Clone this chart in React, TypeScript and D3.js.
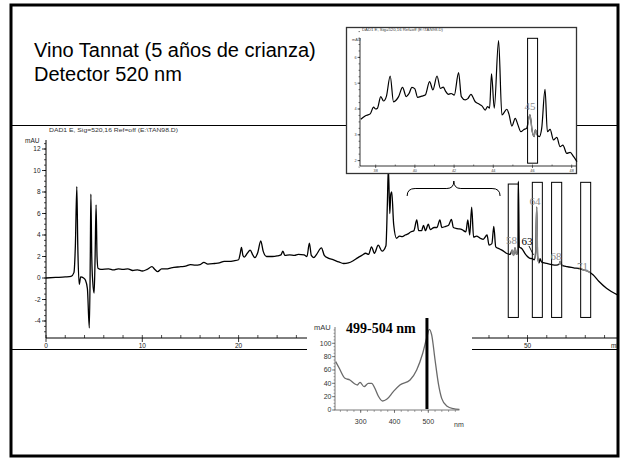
import React from "react";
import * as d3 from "d3";

// ---- Main chromatogram (520 nm) ----
const chromTime = [0, 1, 2, 2.6, 2.9, 3.05, 3.2, 3.3, 3.45, 3.6, 3.9, 4.1, 4.3, 4.5, 4.6, 4.66, 4.75, 4.85, 5.0, 5.1, 5.2, 5.3, 5.4, 5.7, 6.5, 7.0, 7.5, 8.0, 8.5, 9.0, 9.5, 10.0, 10.5, 11.0, 11.3, 11.6, 12.0, 12.5, 13.0, 14.0, 14.5, 15.0, 15.5, 16.0, 16.4, 16.8, 17.5, 18.0, 18.5, 19.0, 19.5, 20.0, 20.15, 20.3, 20.45, 20.6, 20.9, 21.2, 21.5, 21.7, 22.0, 22.3, 22.55, 22.9, 23.5, 24.0, 24.4, 24.6, 24.8, 25.3, 25.8, 26.2, 26.8, 27.1, 27.35, 27.55, 27.8, 28.1, 28.6, 28.9, 29.3, 29.8, 30.4, 30.9, 31.4, 31.9, 32.4, 32.8, 33.2, 33.5, 33.8, 34.1, 34.5, 34.9, 35.3, 35.45, 35.55, 35.7, 35.8, 35.9, 36.1, 36.4, 36.7, 37.0, 37.3, 37.6, 37.9, 38.2, 38.5, 38.7, 39.0, 39.2, 39.4, 39.7, 39.9, 40.3, 40.6, 40.9, 41.1, 41.5, 41.8, 42.1, 42.3, 42.7, 43.2, 43.6, 43.8, 44.0, 44.2, 44.4, 44.7, 45.1, 45.4, 45.8, 46.0, 46.3, 46.5, 46.7, 47.1, 47.5, 47.8, 48.2, 48.4, 48.55, 48.7, 48.85, 49.0, 49.05, 49.15, 49.4, 49.8, 50.25, 50.5, 50.7, 50.85, 50.95, 51.05, 51.2, 51.3, 51.45, 52.0, 52.5, 53.0, 53.3, 53.4, 53.55, 54.1, 54.8, 55.5, 55.8, 56.2, 56.8, 57.4, 58.2, 59.4];
const chromValue = [0.0, 0.05, 0.1, 0.15, 0.5, 3.0, 8.5, 3.0, -0.6, 0.1, 0.0, -0.2, -1.0, -4.65, 2.0, 7.8, 2.0, -0.3, -1.4, 2.0, 6.8, 2.0, 0.9, 0.8, 0.85, 0.75, 0.85, 0.8, 0.85, 0.7, 0.75, 0.65, 0.8, 1.05, 0.8, 0.6, 0.85, 0.85, 0.95, 1.05, 1.1, 1.25, 1.2, 1.25, 1.45, 1.3, 1.35, 1.4, 1.55, 1.55, 1.6, 1.7, 2.2, 2.85, 2.1, 1.95, 2.3, 2.6, 2.1, 1.9, 2.4, 3.45, 2.5, 2.0, 2.0, 2.05, 2.15, 2.5, 2.1, 2.15, 2.1, 2.2, 2.15, 2.0, 3.25, 2.1, 1.9, 2.2, 2.8, 2.1, 1.85, 1.7, 1.5, 1.35, 1.4, 1.6, 1.9, 2.1, 2.3, 2.2, 2.9, 2.3, 3.05, 2.5, 3.0, 7.0, 10.3, 6.0, 7.8, 8.0, 5.0, 3.7, 3.9, 3.85, 4.0, 4.1, 4.3, 4.4, 5.4, 4.4, 4.4, 4.9, 4.4, 5.0, 4.5, 4.7, 4.7, 5.4, 4.7, 4.8, 4.9, 5.45, 4.7, 4.6, 4.5, 4.3, 5.4, 4.0, 6.6, 3.8, 3.9, 3.7, 3.6, 4.0, 3.07, 3.2, 4.8, 2.9, 2.7, 2.5, 2.3, 2.2, 2.6, 2.1, 2.8, 2.2, 2.4, 9.0, 2.9, 2.75, 2.2, 1.83, 1.8, 1.7, 2.5, 6.6, 2.0, 1.4, 1.8, 1.5, 1.35, 1.25, 1.2, 1.3, 1.55, 1.2, 1.05, 0.95, 0.85, 0.75, 0.65, 0.3, -0.3, -0.95, -1.6];
const chromXTicks = [0, 10, 20, 30, 40, 50];
const chromYTicks = [-4, -2, 0, 2, 4, 6, 8, 10, 12];
const grayRanges = [[48.3, 48.98], [50.8, 51.2], [53.25, 53.65], [55.6, 56.5]];
const boxStart = [48.0, 50.5, 52.5, 55.52];
const boxEnd = [49.05, 51.54, 53.55, 56.56];
const boxTop = [8.74, 8.9, 8.9, 8.9];
const boxBottom = -3.67;
const peakLabels = ["58", "63", "64", "68", "71"];
const peakLabelTime = [48.34, 49.95, 50.78, 52.96, 55.71];
const peakLabelValue = [3.5, 3.44, 7.16, 2.05, 1.12];
const peakLabelGray = [true, false, true, true, true];

// ---- Inset (zoom of 37-48 min) ----
const insetTime = [37.24, 37.46, 37.72, 37.89, 38.0, 38.09, 38.26, 38.4, 38.55, 38.74, 38.91, 39.05, 39.17, 39.37, 39.56, 39.7, 39.85, 40.0, 40.14, 40.35, 40.53, 40.75, 40.92, 41.13, 41.3, 41.45, 41.55, 41.72, 41.85, 42.01, 42.23, 42.37, 42.57, 42.7, 42.86, 43.08, 43.25, 43.42, 43.59, 43.71, 43.81, 43.91, 44.05, 44.27, 44.44, 44.69, 44.8, 44.95, 45.12, 45.25, 45.41, 45.55, 45.7, 45.87, 45.99, 46.08, 46.15, 46.25, 46.35, 46.47, 46.64, 46.76, 46.9, 47.07, 47.24, 47.41, 47.55, 47.75, 47.92, 48.1, 48.27];
const insetValue = [3.6, 3.73, 3.81, 4.07, 4.0, 4.03, 4.48, 4.31, 4.5, 5.28, 4.28, 4.35, 4.48, 4.84, 4.48, 4.6, 4.84, 4.78, 4.45, 4.5, 4.54, 5.06, 4.74, 5.28, 4.8, 4.85, 4.71, 4.57, 4.6, 4.54, 5.41, 4.48, 4.35, 4.4, 4.57, 4.28, 4.2, 4.12, 3.96, 4.09, 4.03, 5.36, 4.03, 6.65, 3.77, 3.99, 3.8, 3.34, 3.64, 3.4, 3.12, 3.2, 3.25, 3.77, 3.12, 2.93, 3.19, 2.99, 2.93, 3.25, 4.76, 3.12, 3.21, 2.8, 2.9, 2.54, 2.6, 2.28, 2.32, 2.15, 1.96];
const insetXTicks = [38, 40, 42, 44, 46, 48];
const insetYTicks = [2, 3, 4, 5, 6];
const insetBox = [45.75, 46.26];

// ---- UV-Vis spectrum ----
const specNm = [226, 236.7, 253.6, 268, 283, 290, 298, 310, 322.7, 332.6, 342, 352, 365, 377, 396.5, 416, 446, 465.6, 483.5, 495, 503, 510, 520, 529.7, 539.6, 554.5, 574, 592];
const specValue = [72.5, 62.5, 47.5, 45, 39, 37.5, 41.5, 35, 40, 40, 32.5, 21, 13.5, 16, 27.5, 37.5, 45, 60, 85, 107.5, 121, 112.5, 75, 40, 17.5, 6, 2, 1];
const specXTicks = [300, 400, 500];
const specYTicks = [0, 20, 40, 60, 80, 100];
const specMarkNm = 496;

const SANS = "'Liberation Sans', Arial, sans-serif";
const SERIF = "'Liberation Serif', 'Times New Roman', serif";

export default function App() {
  const xs = d3.scaleLinear().domain([0, 59.5]).range([46, 619]);
  const ys = d3.scaleLinear().domain([0, 12]).range([278, 149]);
  const xi = d3.scaleLinear().domain([37.2, 48.2]).range([360, 575.6]);
  const yi = d3.scaleLinear().domain([2, 6]).range([160.6, 57.4]);
  const xsp = d3.scaleLinear().domain([224, 592]).range([335, 459.4]);
  const ysp = d3.scaleLinear().domain([0, 100]).range([410, 343.3]);

  const chromPts = chromTime.map((t, i) => [t, chromValue[i]] as [number, number]);
  const chromLine = d3.line<[number, number]>().x(d => xs(d[0])).y(d => ys(d[1])).curve(d3.curveMonotoneX);
  const insetPts = insetTime.map((t, i) => [t, insetValue[i]] as [number, number]);
  const insetLine = d3.line<[number, number]>().x(d => xi(d[0])).y(d => yi(d[1])).curve(d3.curveMonotoneX);
  const specPts = specNm.map((t, i) => [t, specValue[i]] as [number, number]);
  const specLine = d3.line<[number, number]>().x(d => xsp(d[0])).y(d => ysp(d[1])).curve(d3.curveMonotoneX);

  const chromMinorX = d3.range(0, 59.5, 2);
  const chromMinorY = d3.range(-5, 12.51, 0.5);
  const insetMinorX = d3.range(38, 48.3, 1);
  const insetMinorY = d3.range(1.75, 7.01, 0.25);
  const specMinorX = d3.range(240, 592, 20);
  const specMinorY = d3.range(0, 121, 5);

  const cx = (xs(peakLabelTime[0]) + 0);
  void cx;

  return (
    <svg width={624} height={461} style={{ position: "absolute", left: 0, top: 0, background: "#fff" }}>
      <defs>
        <clipPath id="grayclip">
          {grayRanges.map((r, i) => (
            <rect key={i} x={xs(r[0])} y={100} width={xs(r[1]) - xs(r[0])} height={260} />
          ))}
        </clipPath>
        <clipPath id="insetgray">
          <rect x={xi(insetBox[0])} y={30} width={xi(insetBox[1]) - xi(insetBox[0])} height={140} />
        </clipPath>
        <clipPath id="frameclip">
          <rect x={11} y={5} width={607} height={451} />
        </clipPath>
      </defs>
      <rect x={0} y={0} width={624} height={461} fill="#fff" />

      {/* Title */}
      <text x={34} y={57} fontFamily={SANS} fontSize={20} fill="#000">Vino Tannat (5 años de crianza)</text>
      <text x={34} y={81} fontFamily={SANS} fontSize={20} fill="#000">Detector 520 nm</text>

      {/* chromatogram image frame lines */}
      <line x1={11} x2={619} y1={125.5} y2={125.5} stroke="#000" strokeWidth={1} />
      <line x1={11} x2={619} y1={349.5} y2={349.5} stroke="#000" strokeWidth={1} />

      <text x={49} y={131.5} fontFamily={SANS} fontSize={6} fill="#333" textLength={129} lengthAdjust="spacingAndGlyphs">DAD1 E, Sig=520,16 Ref=off (E:\TAN98.D)</text>

      {/* main y axis */}
      <g fontFamily={SANS} fontSize={6.5} fill="#222">
        <text x={25} y={143}>mAU</text>
        <line x1={46} x2={46} y1={140} y2={338} stroke="#000" strokeWidth={1} />
        {chromMinorY.map((v, i) => (
          <line key={"my" + i} x1={44} x2={46} y1={ys(v)} y2={ys(v)} stroke="#000" strokeWidth={0.7} />
        ))}
        {chromYTicks.map(v => (
          <g key={"y" + v}>
            <line x1={42} x2={46} y1={ys(v)} y2={ys(v)} stroke="#000" strokeWidth={0.8} />
            <text x={40.5} y={ys(v) + 2.3} textAnchor="end">{v}</text>
          </g>
        ))}
        {/* main x axis */}
        <line x1={46} x2={619} y1={338} y2={338} stroke="#000" strokeWidth={1} />
        {chromMinorX.map((t, i) => (
          <line key={"mx" + i} x1={xs(t)} x2={xs(t)} y1={335} y2={338} stroke="#000" strokeWidth={0.7} />
        ))}
        {chromXTicks.map(t => (
          <g key={"x" + t}>
            <line x1={xs(t)} x2={xs(t)} y1={338} y2={342} stroke="#000" strokeWidth={0.8} />
            <text x={xs(t)} y={347.5} textAnchor="middle">{t}</text>
          </g>
        ))}
        <g clipPath="url(#frameclip)">
          <text x={611} y={347.5}>min</text>
        </g>
      </g>

      {/* main trace */}
      <path d={chromLine(chromPts) || ""} fill="none" stroke="#000" strokeWidth={1.3} strokeLinejoin="round" />
      <path d={chromLine(chromPts) || ""} fill="none" stroke="#8a8a8a" strokeWidth={1.5} clipPath="url(#grayclip)" />

      {/* boxes */}
      {boxStart.map((s, i) => (
        <rect key={"b" + i} x={xs(s)} y={ys(boxTop[i])} width={xs(boxEnd[i]) - xs(s)} height={ys(boxBottom) - ys(boxTop[i])} fill="none" stroke="#000" strokeWidth={1} />
      ))}
      {peakLabels.map((l, i) => (
        <text key={"pl" + i} x={xs(peakLabelTime[i])} y={ys(peakLabelValue[i])} textAnchor="middle" dominantBaseline="central" fontFamily={SERIF} fontSize={11} fill={peakLabelGray[i] ? "#8a8a8a" : "#000"}>{l}</text>
      ))}
      <line x1={xs(50.15)} y1={ys(2.98)} x2={xs(50.62)} y2={ys(2.14)} stroke="#000" strokeWidth={0.9} />

      {/* brace */}
      <path d={`M${xs(37.5)},196 Q${xs(37.5)},188.5 ${xs(37.5) + 8},188.5 L${xs(42.35) - 7},188.5 Q${xs(42.35)},188.5 ${xs(42.35)},181 Q${xs(42.35)},188.5 ${xs(42.35) + 7},188.5 L${xs(47.15) - 8},188.5 Q${xs(47.15)},188.5 ${xs(47.15)},196`} fill="none" stroke="#000" strokeWidth={1} />

      {/* inset */}
      <rect x={346.5} y={27.5} width={230} height={146} fill="#fff" stroke="#333" strokeWidth={1.3} />
      <text x={362} y={31} fontFamily={SANS} fontSize={3.6} fill="#444" textLength={81} lengthAdjust="spacingAndGlyphs">DAD1 E, Sig=520,16 Ref=off (E:\TAN98.D)</text>
      <g fontFamily={SANS} fontSize={3.8} fill="#444">
        <text x={352} y={40.5}>mAU</text>
        <line x1={360} x2={360} y1={38} y2={166} stroke="#000" strokeWidth={0.8} />
        {insetMinorY.map((v, i) => (
          <line key={"imy" + i} x1={358.5} x2={360} y1={yi(v)} y2={yi(v)} stroke="#000" strokeWidth={0.5} />
        ))}
        {insetYTicks.map(v => (
          <g key={"iy" + v}>
            <line x1={357.5} x2={360} y1={yi(v)} y2={yi(v)} stroke="#000" strokeWidth={0.6} />
            <text x={356.5} y={yi(v) + 1.3} textAnchor="end">{v}</text>
          </g>
        ))}
        <line x1={360} x2={576} y1={166} y2={166} stroke="#000" strokeWidth={0.8} />
        {insetMinorX.map((t, i) => (
          <line key={"imx" + i} x1={xi(t)} x2={xi(t)} y1={164.5} y2={166} stroke="#000" strokeWidth={0.5} />
        ))}
        {insetXTicks.map(t => (
          <g key={"ix" + t}>
            <line x1={xi(t)} x2={xi(t)} y1={166} y2={168} stroke="#000" strokeWidth={0.6} />
            <text x={xi(t)} y={171.5} textAnchor="middle">{t}</text>
          </g>
        ))}
      </g>
      <path d={insetLine(insetPts) || ""} fill="none" stroke="#000" strokeWidth={1.2} strokeLinejoin="round" />
      <path d={insetLine(insetPts) || ""} fill="none" stroke="#8a8a8a" strokeWidth={1.4} clipPath="url(#insetgray)" />
      <rect x={xi(insetBox[0])} y={yi(6.74)} width={xi(insetBox[1]) - xi(insetBox[0])} height={yi(1.9) - yi(6.74)} fill="none" stroke="#000" strokeWidth={1} />
      <text x={xi(45.87)} y={yi(4.12)} textAnchor="middle" dominantBaseline="central" fontFamily={SERIF} fontSize={11} fill="#8a8a8a">45</text>

      {/* spectrum */}
      <rect x={307} y={318} width={165} height={122} fill="#fff" />
      <g fontFamily={SANS} fontSize={7} fill="#333">
        <text x={314} y={329.5} fontSize={7.5}>mAU</text>
        <line x1={335} x2={335} y1={327} y2={410} stroke="#555" strokeWidth={0.8} />
        {specMinorY.map((v, i) => (
          <line key={"smy" + i} x1={333.5} x2={335} y1={ysp(v)} y2={ysp(v)} stroke="#555" strokeWidth={0.5} />
        ))}
        {specYTicks.map(v => (
          <g key={"sy" + v}>
            <line x1={332} x2={335} y1={ysp(v)} y2={ysp(v)} stroke="#555" strokeWidth={0.7} />
            <text x={331.5} y={ysp(v) + 2.4} textAnchor="end">{v}</text>
          </g>
        ))}
        <line x1={335} x2={459.4} y1={410} y2={410} stroke="#555" strokeWidth={0.8} />
        {specMinorX.map((t, i) => (
          <line key={"smx" + i} x1={xsp(t)} x2={xsp(t)} y1={410} y2={412} stroke="#555" strokeWidth={0.5} />
        ))}
        {specXTicks.map(t => (
          <g key={"sx" + t}>
            <line x1={xsp(t)} x2={xsp(t)} y1={410} y2={413} stroke="#555" strokeWidth={0.7} />
            <text x={xsp(t)} y={424} textAnchor="middle">{t}</text>
          </g>
        ))}
        <text x={454} y={427}>nm</text>
      </g>
      <path d={specLine(specPts) || ""} fill="none" stroke="#6a6a6a" strokeWidth={1.3} />
      <line x1={xsp(specMarkNm)} x2={xsp(specMarkNm)} y1={318} y2={409} stroke="#000" strokeWidth={3} />
      <text x={346} y={333} fontFamily={SERIF} fontWeight="bold" fontSize={14} fill="#000">499-504 nm</text>

      {/* outer frame */}
      <rect x={11} y={5} width={607} height={451} fill="none" stroke="#000" strokeWidth={3} />
    </svg>
  );
}
